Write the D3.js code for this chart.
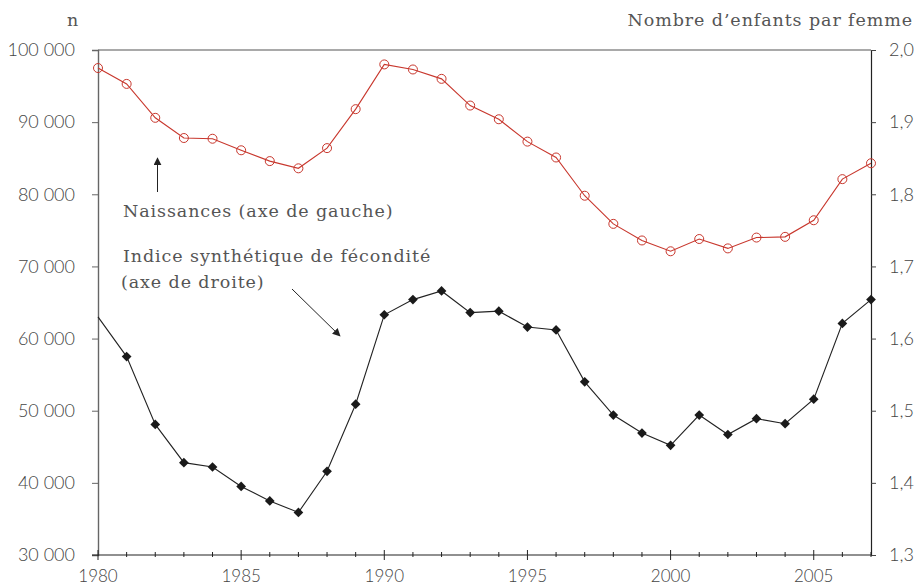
<!DOCTYPE html>
<html>
<head>
<meta charset="utf-8">
<script src="https://cdn.jsdelivr.net/npm/d3@7"></script>
<style>
  body { margin: 0; background: #fff; }
  .tick text { font-family: Lato, "Liberation Sans", sans-serif; font-weight: 300; font-size: 18px; fill: #444; }
  .note { font-family: "DejaVu Serif", serif; font-size: 17.5px; letter-spacing: 0.9px; fill: #555; }
</style>
</head>
<body>
<svg id="chart" width="917" height="588"></svg>
<script>
var years = d3.range(1980, 2008);

var naissances = [97500, 95300, 90600, 87800, 87700, 86100, 84600, 83600, 86400, 91800,
  98000, 97300, 96000, 92300, 90400, 87300, 85100, 79800, 75900, 73600,
  72100, 73800, 72500, 74000, 74100, 76400, 82100, 84300];

var isf = [1.630, 1.575, 1.481, 1.428, 1.422, 1.395, 1.375, 1.359, 1.416, 1.509,
  1.633, 1.654, 1.666, 1.636, 1.638, 1.616, 1.612, 1.540, 1.494, 1.469,
  1.452, 1.494, 1.467, 1.489, 1.482, 1.516, 1.621, 1.654];

var leftTicks = [30000, 40000, 50000, 60000, 70000, 80000, 90000, 100000];
var rightTicks = [1.3, 1.4, 1.5, 1.6, 1.7, 1.8, 1.9, 2.0];
var yearLabels = [1980, 1985, 1990, 1995, 2000, 2005];

const LEFT = 98, RIGHT = 871, TOP = 50, BOTTOM = 555;
const RED = "#c8372d";

var svg = d3.select("#chart");

var x = d3.scaleLinear().domain([1980, 2007]).range([LEFT, RIGHT]);
var yL = d3.scaleLinear().domain([30000, 100000]).range([BOTTOM, TOP]);
var yR = d3.scaleLinear().domain([1.3, 2.0]).range([BOTTOM, TOP]);

var fmtN = (d) => d3.format(",")(d).replace(/,/g, " ");
var fmtR = (d) => d3.format(".1f")(d).replace(".", ",");

// top frame line
svg.append("line")
  .attr("x1", LEFT).attr("x2", RIGHT)
  .attr("y1", TOP).attr("y2", TOP)
  .attr("stroke", "#555").attr("stroke-width", 1.2);

// left axis
var gL = svg.append("g")
  .attr("transform", `translate(${LEFT},0)`)
  .call(d3.axisLeft(yL).tickValues(leftTicks).tickFormat(fmtN).tickSize(6).tickPadding(17));
gL.select(".domain").attr("stroke", "#666").attr("stroke-width", 1.4);
gL.selectAll(".tick line").attr("stroke", "#666");

// right axis
var gR = svg.append("g")
  .attr("transform", `translate(${RIGHT},0)`)
  .call(d3.axisRight(yR).tickValues(rightTicks).tickFormat(fmtR).tickSize(5).tickPadding(13));
gR.select(".domain").attr("stroke", "#222").attr("stroke-width", 1.2);
gR.selectAll(".tick line").attr("stroke", "#444");

// bottom axis: yearly minor ticks crossing the line, longer ones every 5 years
var gB = svg.append("g").attr("transform", `translate(0,${BOTTOM})`);
gB.append("line")
  .attr("x1", LEFT - 6).attr("x2", RIGHT)
  .attr("stroke", "#222").attr("stroke-width", 1.2);
gB.selectAll("line.minor")
  .data(years)
  .enter()
  .append("line")
  .attr("class", "minor")
  .attr("x1", (d) => x(d)).attr("x2", (d) => x(d))
  .attr("y1", (d) => d % 5 === 0 ? -5 : -3)
  .attr("y2", (d) => d % 5 === 0 ? 5 : 2)
  .attr("stroke", "#222");
gB.selectAll("text")
  .data(yearLabels)
  .enter()
  .append("text")
  .attr("x", (d) => x(d))
  .attr("y", 27)
  .attr("text-anchor", "middle")
  .style("font-family", "Lato, 'Liberation Sans', sans-serif")
  .style("font-weight", 300)
  .style("font-size", "17px")
  .style("fill", "#444")
  .text((d) => d);

// axis titles
svg.append("text").attr("class", "note")
  .attr("x", 73).attr("y", 26).attr("text-anchor", "middle").text("n");
svg.append("text").attr("class", "note")
  .attr("x", 913).attr("y", 26).attr("text-anchor", "end").text("Nombre d\u2019enfants par femme");

// births series
var lineN = d3.line().x((d, i) => x(years[i])).y((d) => yL(d));
svg.append("path")
  .datum(naissances)
  .attr("d", lineN)
  .attr("fill", "none")
  .attr("stroke", RED)
  .attr("stroke-width", 1.1);
svg.selectAll("circle.n")
  .data(naissances)
  .enter()
  .append("circle")
  .attr("class", "n")
  .attr("cx", (d, i) => x(years[i]))
  .attr("cy", (d) => yL(d))
  .attr("r", 4.5)
  .attr("fill", "none")
  .attr("stroke", RED)
  .attr("stroke-width", 1);

// fertility series
var lineR = d3.line().x((d, i) => x(years[i])).y((d) => yR(d));
svg.append("path")
  .datum(isf)
  .attr("d", lineR)
  .attr("fill", "none")
  .attr("stroke", "#222")
  .attr("stroke-width", 1.1);
var diamond = d3.symbol().type(d3.symbolDiamond2).size(60);
svg.selectAll("path.isf")
  .data(isf.slice(1))
  .enter()
  .append("path")
  .attr("class", "isf")
  .attr("transform", (d, i) => `translate(${x(years[i + 1])},${yR(d)})`)
  .attr("d", diamond)
  .attr("fill", "#1a1a1a");

// annotations
svg.append("text").attr("class", "note").attr("x", 123).attr("y", 217).text("Naissances (axe de gauche)");
svg.append("text").attr("class", "note").attr("x", 123).attr("y", 262).text("Indice synth\u00e9tique de f\u00e9condit\u00e9");
svg.append("text").attr("class", "note").attr("x", 121).attr("y", 288).text("(axe de droite)");

svg.append("defs").append("marker")
  .attr("id", "head")
  .attr("viewBox", "0 0 10 10")
  .attr("refX", 9).attr("refY", 5)
  .attr("markerWidth", 8).attr("markerHeight", 8)
  .attr("markerUnits", "userSpaceOnUse")
  .attr("orient", "auto")
  .append("path")
  .attr("d", "M0,0L10,5L0,10Z")
  .attr("fill", "#222");

svg.append("line")
  .attr("x1", 157.5).attr("y1", 192).attr("x2", 157.5).attr("y2", 158)
  .attr("stroke", "#222").attr("stroke-width", 1).attr("marker-end", "url(#head)");
svg.append("line")
  .attr("x1", 292).attr("y1", 289).attr("x2", 340).attr("y2", 336)
  .attr("stroke", "#222").attr("stroke-width", 1).attr("marker-end", "url(#head)");
</script>
</body>
</html>
